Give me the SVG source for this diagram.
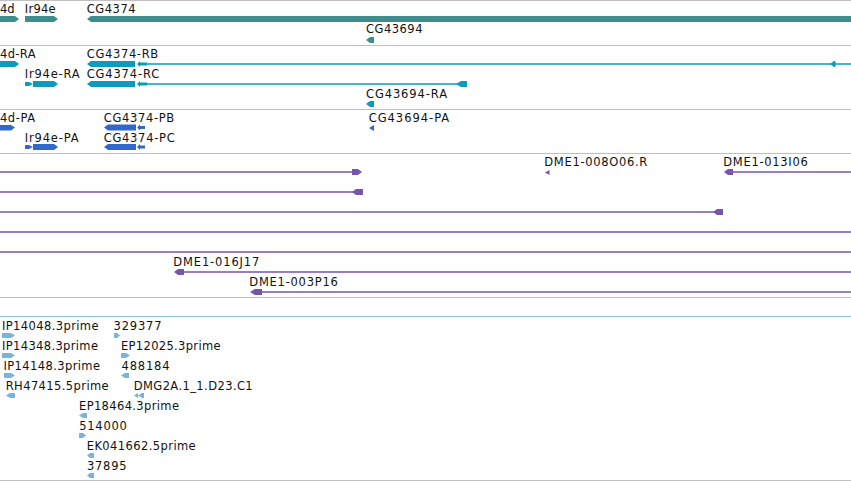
<svg xmlns="http://www.w3.org/2000/svg" width="851" height="481" viewBox="0 0 851 481">
<style>
  text { font-family: "DejaVu Sans", "Liberation Sans", sans-serif; font-size: 11.5px; fill: #111; lengthAdjust: spacing; }
  .sep { stroke: #c0c0c0; stroke-width: 1; }
  .sepb { stroke: #8cbfe0; stroke-width: 1; }
  .g1 { fill: #3f8c8c; }
  .g2 { fill: #0a9bbf; }
  .l2 { stroke: #0a9bbf; stroke-width: 1.5; fill: none; }
  .g3 { fill: #3068cc; }
  .g4 { fill: #7755aa; }
  .l4 { stroke: #7755aa; stroke-width: 1.3; fill: none; }
  .g5 { fill: #7ab4dc; }
</style>
<rect width="851" height="481" fill="#ffffff"/>
<g id="connectors">
  <line class="sep" x1="0" y1="0.5" x2="851" y2="0.5"/>
  <line class="sep" x1="0" y1="45.5" x2="851" y2="45.5"/>
  <line class="sep" x1="0" y1="109.5" x2="851" y2="109.5"/>
  <line class="sep" x1="0" y1="153.5" x2="851" y2="153.5"/>
  <line class="sep" x1="0" y1="297.5" x2="851" y2="297.5"/>
  <line class="sepb" x1="0" y1="316.5" x2="851" y2="316.5"/>
  <line class="sep" x1="0" y1="480.5" x2="851" y2="480.5"/>
</g>
<!-- Track 1: genes -->
<g id="Ir94d">
  <text x="0" y="13">4d</text>
  <polygon class="g1" points="0,16 15,16 19,19 15,22 0,22"/>
</g>
<g id="Ir94e">
  <text x="24.7" y="13" textLength="31">Ir94e</text>
  <polygon class="g1" points="25,16 54,16 58,19 54,22 25,22"/>
</g>
<g id="CG4374">
  <text x="86.7" y="13" textLength="49">CG4374</text>
  <polygon class="g1" points="87,19 91,16 851,16 851,22 91,22"/>
</g>
<g id="CG43694">
  <text x="366" y="33" textLength="56.5">CG43694</text>
  <polygon class="g1" points="366,40 370,37 374,37 374,43 370,43"/>
</g>
<!-- Track 2: transcripts -->
<g id="Ir94d-RA">
  <text x="0" y="57.5" textLength="35.5">4d-RA</text>
  <polygon class="g2" points="0,61 15,61 19,64 15,67 0,67"/>
</g>
<g id="CG4374-RB">
  <text x="86.7" y="57.5" textLength="71.5">CG4374-RB</text>
  <polygon class="g2" points="87,64 91,61 135,61 135,67 91,67"/>
  <polygon class="g2" points="137,64 140,61 140,62.5 147,62.5 147,65.5 140,65.5 140,67"/>
  <line class="l2" x1="147" y1="64" x2="851" y2="64"/>
  <polygon class="g2" points="830,64 834,61 835.5,61 835.5,67 834,67"/>
</g>
<g id="Ir94e-RA">
  <text x="24.7" y="77.5" textLength="55">Ir94e-RA</text>
  <polygon class="g2" points="25,82 29,82 33,84 29,86 25,86"/>
  <polygon class="g2" points="33,81 54,81 58,84 54,87 33,87"/>
</g>
<g id="CG4374-RC">
  <text x="86.7" y="77.5" textLength="72.5">CG4374-RC</text>
  <polygon class="g2" points="87,84 91,81 135,81 135,87 91,87"/>
  <polygon class="g2" points="137,84 140,81 140,82.5 147,82.5 147,85.5 140,85.5 140,87"/>
  <line class="l2" x1="147" y1="84" x2="457" y2="84"/>
  <polygon class="g2" points="456,84 461,81 467,81 467,87 461,87"/>
</g>
<g id="CG43694-RA">
  <text x="366" y="97.5" textLength="81">CG43694-RA</text>
  <polygon class="g2" points="366,104 370,101 374,101 374,107 370,107"/>
</g>
<!-- Track 3: proteins -->
<g id="Ir94d-PA">
  <text x="0" y="122" textLength="35">4d-PA</text>
  <polygon class="g3" points="0,125 11,125 15,127.5 11,130.5 0,130.5"/>
</g>
<g id="CG4374-PB">
  <text x="103.7" y="122" textLength="70.5">CG4374-PB</text>
  <polygon class="g3" points="104,127.5 108,124.5 136,124.5 136,130.5 108,130.5"/>
  <polygon class="g3" points="137,127.5 140,124.5 140,126 145,126 145,129 140,129 140,130.5"/>
</g>
<g id="CG43694-PA">
  <text x="368.7" y="122" textLength="80.5">CG43694-PA</text>
  <polygon class="g3" points="369,128 374,125 374,131"/>
</g>
<g id="Ir94e-PA">
  <text x="24.7" y="142" textLength="54">Ir94e-PA</text>
  <polygon class="g3" points="25,145 29,145 33,147 29,149 25,149"/>
  <polygon class="g3" points="33,144 54,144 58,147 54,150 33,150"/>
</g>
<g id="CG4374-PC">
  <text x="103.7" y="142" textLength="71">CG4374-PC</text>
  <polygon class="g3" points="104,147 108,144 136,144 136,150 108,150"/>
  <polygon class="g3" points="137,147 140,144 140,145.5 145,145.5 145,148.5 140,148.5 140,150"/>
</g>
<!-- Track 4: clones -->
<g id="clone1">
  <line class="l4" x1="0" y1="172" x2="353" y2="172"/>
  <polygon class="g4" points="352,169 358,169 362,172 358,175 352,175"/>
</g>
<g id="DME1-008O06.R">
  <text x="544.3" y="166" textLength="103">DME1-008O06.R</text>
  <polygon class="g4" points="545,172.5 549.5,170 549.5,175"/>
</g>
<g id="DME1-013I06">
  <text x="723.3" y="166" textLength="84.5">DME1-013I06</text>
  <polygon class="g4" points="724,172 728,169 733,169 733,175 728,175"/>
  <line class="l4" x1="733" y1="172" x2="851" y2="172"/>
</g>
<g id="clone2">
  <line class="l4" x1="0" y1="192" x2="353" y2="192"/>
  <polygon class="g4" points="352,192 356,189 363,189 363,195 356,195"/>
</g>
<g id="clone3">
  <line class="l4" x1="0" y1="212" x2="714" y2="212"/>
  <polygon class="g4" points="713,212 717,209 723,209 723,215 717,215"/>
</g>
<g id="clone4">
  <line class="l4" x1="0" y1="232" x2="851" y2="232"/>
</g>
<g id="clone5">
  <line class="l4" x1="0" y1="252" x2="851" y2="252"/>
</g>
<g id="DME1-016J17">
  <text x="173.3" y="266" textLength="86">DME1-016J17</text>
  <polygon class="g4" points="174,272 178,269 184,269 184,275 178,275"/>
  <line class="l4" x1="184" y1="272" x2="851" y2="272"/>
</g>
<g id="DME1-003P16">
  <text x="249.3" y="286" textLength="88.5">DME1-003P16</text>
  <polygon class="g4" points="250,292 255,289 262,289 262,295 255,295"/>
  <line class="l4" x1="262" y1="292" x2="851" y2="292"/>
</g>
<!-- Track 5: ESTs -->
<g id="IP14048.3prime">
  <text x="2" y="330" textLength="96.5">IP14048.3prime</text>
  <polygon class="g5" points="2,333 11,333 15,335.5 11,338 2,338"/>
</g>
<g id="e329377">
  <text x="113.5" y="330" textLength="48">329377</text>
  <polygon class="g5" points="114,333 117,333 120,335.5 117,338 114,338"/>
</g>
<g id="IP14348.3prime">
  <text x="2" y="350" textLength="96">IP14348.3prime</text>
  <polygon class="g5" points="2,353 11,353 15,355.5 11,358 2,358"/>
</g>
<g id="EP12025.3prime">
  <text x="121" y="350" textLength="99.5">EP12025.3prime</text>
  <polygon class="g5" points="121,353 126,353 130,355.5 126,358 121,358"/>
</g>
<g id="IP14148.3prime">
  <text x="3.5" y="370" textLength="96.5">IP14148.3prime</text>
  <polygon class="g5" points="4,373 11,373 15,375.5 11,378 4,378"/>
</g>
<g id="e488184">
  <text x="121.5" y="370" textLength="48">488184</text>
  <polygon class="g5" points="121,375.5 125,373 129,373 129,378 125,378"/>
</g>
<g id="RH47415.5prime">
  <text x="5.7" y="390" textLength="103">RH47415.5prime</text>
  <polygon class="g5" points="6,395.5 10,393 15,393 15,398 10,398"/>
</g>
<g id="DMG2A.1_1.D23.C1">
  <text x="133.7" y="390" textLength="119">DMG2A.1_1.D23.C1</text>
  <polygon class="g5" points="134,395.5 138,393 138,398"/>
  <polygon class="g5" points="138,395.5 142,393 144,393 144,398 142,398"/>
</g>
<g id="EP18464.3prime">
  <text x="79" y="410" textLength="100">EP18464.3prime</text>
  <polygon class="g5" points="79,415.5 83,413 87,413 87,418 83,418"/>
</g>
<g id="e514000">
  <text x="79.3" y="430" textLength="47.5">514000</text>
  <polygon class="g5" points="79,433 83,433 86,435.5 83,438 79,438"/>
</g>
<g id="EK041662.5prime">
  <text x="86.7" y="450" textLength="109">EK041662.5prime</text>
  <polygon class="g5" points="87,455.5 90,453 94,453 94,458 90,458"/>
</g>
<g id="e37895">
  <text x="87" y="470" textLength="39.5">37895</text>
  <polygon class="g5" points="87,475.5 90,473 94,473 94,478 90,478"/>
</g>
</svg>
